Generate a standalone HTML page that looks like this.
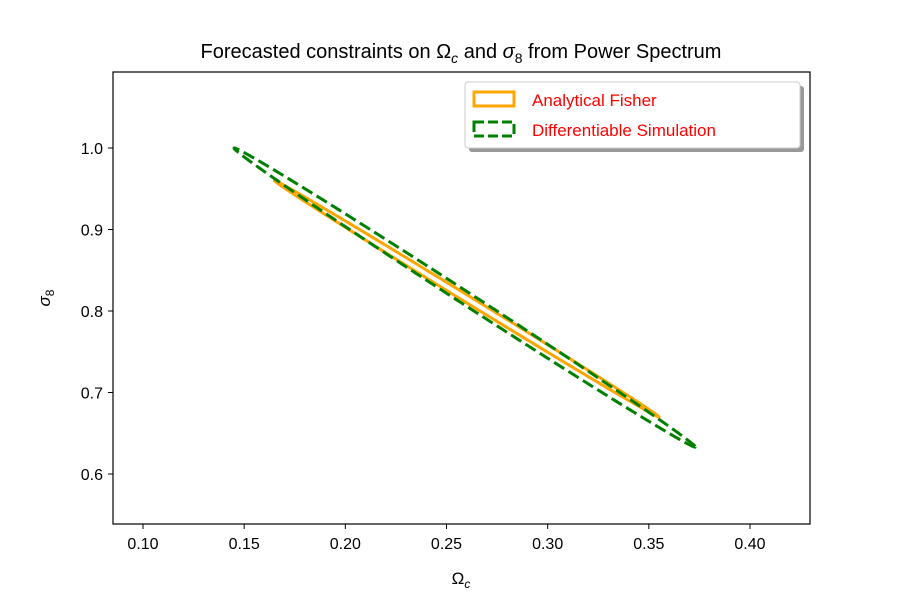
<!DOCTYPE html>
<html><head><meta charset="utf-8"><style>
body{margin:0;background:#fff;font-family:"Liberation Sans","DejaVu Sans",sans-serif;}
</style></head><body>
<svg id="chart" width="900" height="600" xmlns="http://www.w3.org/2000/svg">
<rect width="900" height="600" fill="#fff"/>
<text x="461" y="58" font-size="20" text-anchor="middle">Forecasted constraints on Ω<tspan font-style="italic" font-size="14" dy="5">c</tspan><tspan dy="-5"> and </tspan><tspan font-style="italic">σ</tspan><tspan font-size="14" dy="5">8</tspan><tspan dy="-5"> from Power Spectrum</tspan></text>
<g id="plot"></g>
<rect x="113" y="72" width="697" height="452" fill="none" stroke="#000" stroke-width="1.2"/>
<text x="461" y="584" font-size="17" text-anchor="middle">Ω<tspan font-style="italic" font-size="12" dy="4">c</tspan></text>
<text transform="translate(50,298) rotate(-90)" font-size="17" text-anchor="middle"><tspan font-style="italic">σ</tspan><tspan font-size="12" dy="4">8</tspan></text>
<g>
<rect x="469" y="86" width="335" height="66" rx="3" fill="#999"/>
<rect x="465" y="82" width="335" height="66" rx="3" fill="#fff" stroke="#ccc"/>
<rect x="474" y="92" width="40" height="14" fill="none" stroke="orange" stroke-width="3"/>
<text x="532" y="106" font-size="17" fill="red">Analytical Fisher</text>
<rect x="474" y="122" width="40" height="14" fill="none" stroke="green" stroke-width="3" stroke-dasharray="10,4"/>
<text x="532" y="136" font-size="17" fill="red">Differentiable Simulation</text>
</g>
</svg>
<script>
const xTicks=[0.10,0.15,0.20,0.25,0.30,0.35,0.40];
const yTicks=[0.6,0.7,0.8,0.9,1.0];
const names=["fisher","simulation"];
const centersX=[0.260,0.259];
const centersY=[0.815,0.8165];
const sigmaX=[0.095,0.114];
const sigmaY=[0.145,0.1835];
const rhos=[-0.9994,-0.99875];
const colors=["orange","green"];
const dashes=["none","12,5"];
const X=v=>143+(v-0.10)*2023.3, Y=v=>474-(v-0.6)*815;
const NS="http://www.w3.org/2000/svg", g=document.getElementById('plot');
function mk(t,a){const e=document.createElementNS(NS,t);for(const k in a)e.setAttribute(k,a[k]);g.appendChild(e);return e;}
xTicks.forEach(v=>{
 const l=mk('line',{x1:X(v),x2:X(v),y1:524,y2:529,stroke:'#000'});
 
 
 const t=mk('text',{x:X(v),y:549,'font-size':16,'text-anchor':'middle'});t.textContent=v.toFixed(2);
 
 
});
yTicks.forEach(v=>{
 const l=mk('line',{x1:108,x2:113,y1:Y(v),y2:Y(v),stroke:'#000'});
 
 
 const t=mk('text',{x:103,y:Y(v)+6,'font-size':16,'text-anchor':'end'});t.textContent=v.toFixed(1);
 
 
});
names.forEach((n,i)=>{
 const s=Math.sqrt(1-rhos[i]*rhos[i]);let d='';
 for(let k=0;k<=360;k++){const t=k*Math.PI/180;
  const x=centersX[i]+sigmaX[i]*Math.cos(t);
  const y=centersY[i]+sigmaY[i]*(rhos[i]*Math.cos(t)-s*Math.sin(t));
  d+=(k?'L':'M')+X(x).toFixed(2)+','+Y(y).toFixed(2);}
 const p=mk('path',{d:d+'Z',fill:'none',stroke:colors[i],'stroke-width':3,'stroke-dasharray':dashes[i]});
 
 
});
</script>
</body></html>
